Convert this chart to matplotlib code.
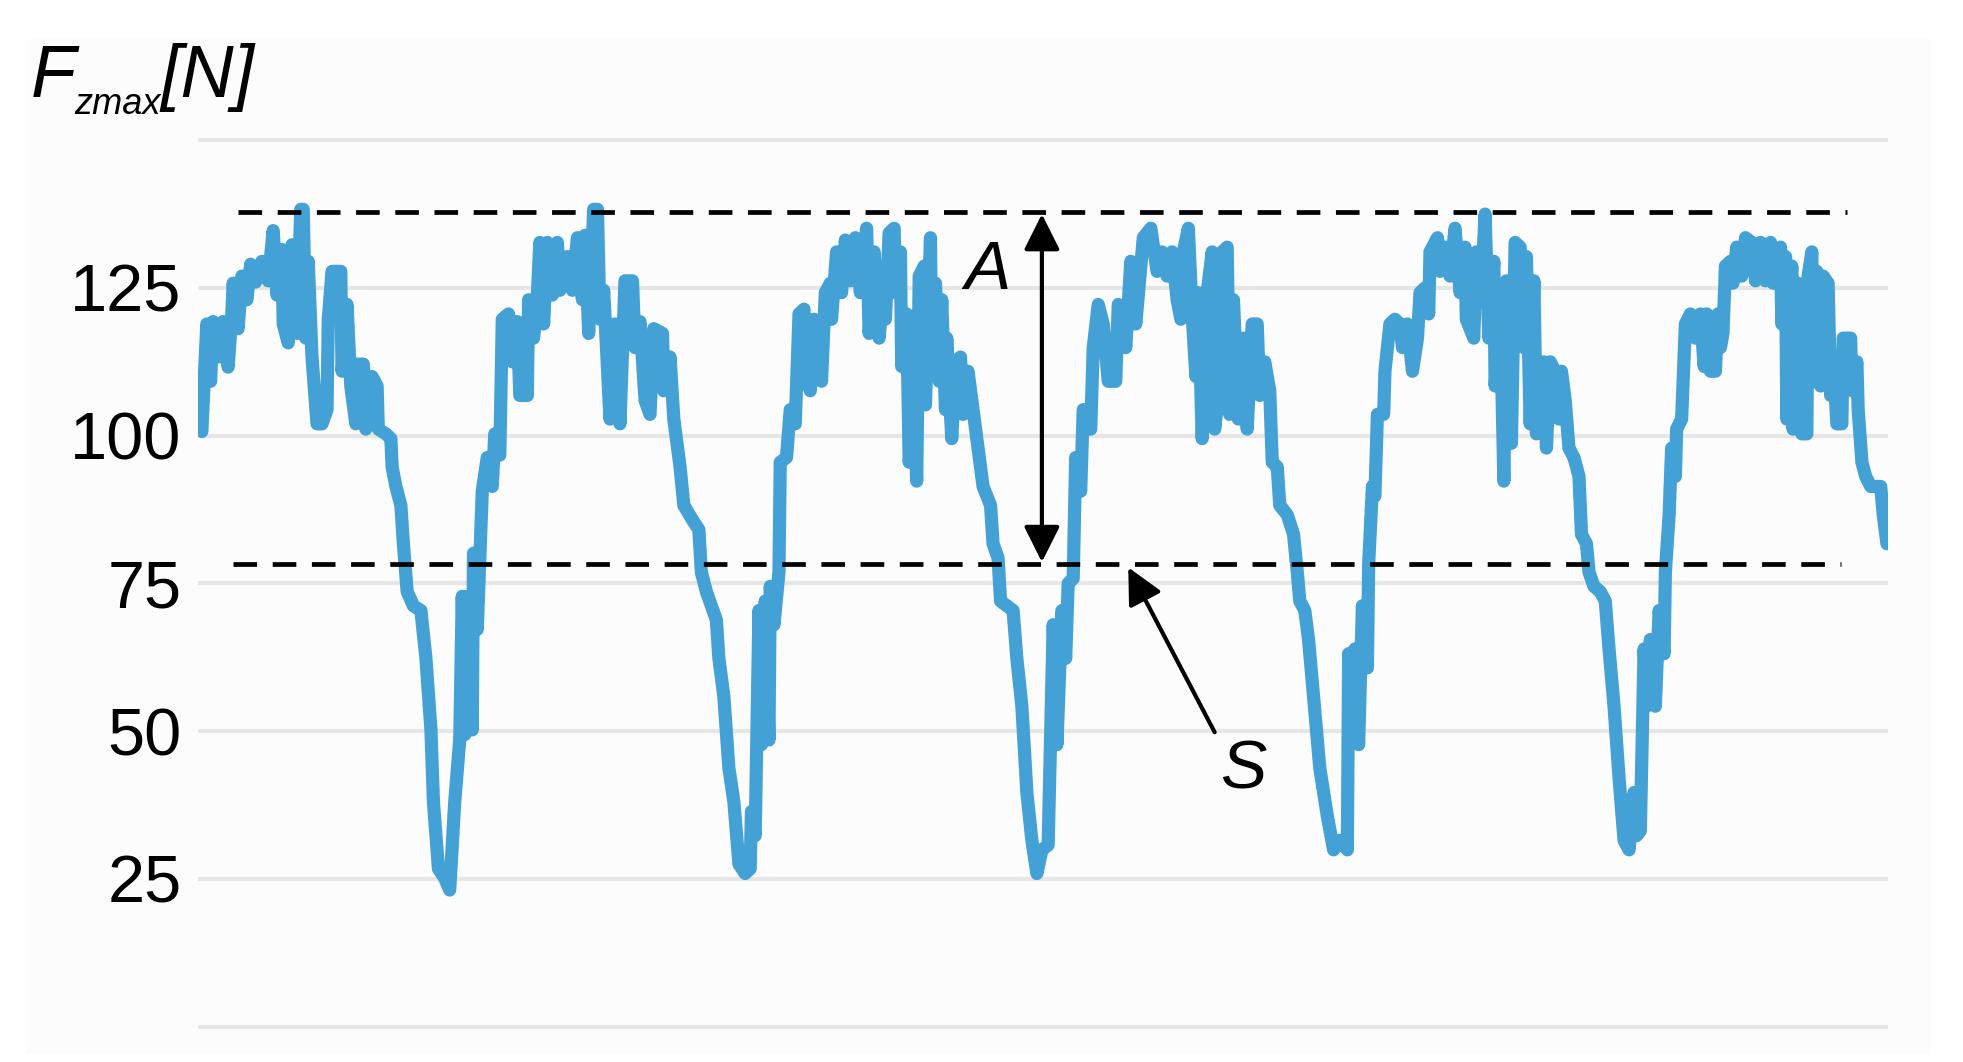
import matplotlib
matplotlib.use("Agg")
import matplotlib.pyplot as plt
from matplotlib.patches import Rectangle

plt.rcParams['font.family'] = ['Liberation Sans', 'DejaVu Sans']

# time (arbitrary sample units) and F_zmax [N]
t = [3, 7, 10, 12, 16, 20, 24, 27, 28, 32, 35, 39, 42, 46, 51, 56, 60, 63, 67, 68,
     72, 75, 79, 82, 84, 86, 88, 91, 95, 99, 103, 104, 107, 114, 115, 119, 122, 126, 127, 132,
     134, 139, 143, 144, 150, 154, 155, 158, 162, 164, 167, 172, 178, 182, 186, 188, 192, 197, 201, 205,
     209, 211, 213, 215, 219, 220, 223, 227, 231, 235, 237, 241, 243, 248, 251, 255, 257, 263, 264, 268,
     271, 273, 276, 279, 283, 287, 289, 295, 299, 303, 307, 309, 312, 316, 319, 321, 324, 329, 333, 337,
     341, 347, 349, 353, 357, 361, 364, 371, 372, 377, 380,
     385, 388, 395, 400, 402, 406, 410, 414, 416, 420, 424, 428, 432, 437, 441, 442, 445, 448, 450, 453,
     456, 457, 460, 464, 465, 470, 473, 477, 480, 484, 485, 489, 492, 496, 498, 501, 505, 506, 510, 514,
     517, 521, 525, 529, 534, 536, 540, 544, 548, 549, 552, 556, 557, 561, 562, 566, 568, 572, 574, 576,
     580, 581, 585, 586, 589, 592, 594, 597, 598, 602, 605, 609, 611, 615, 619, 623, 627, 633, 635, 639,
     641, 646, 651, 654, 658, 662, 666, 670, 674, 679, 683, 686, 690, 693, 695, 699, 701, 705, 707, 713,
     715, 719, 723, 727, 733, 735, 739, 741, 745, 749, 753, 755, 761,
     766, 770, 774, 778, 782, 785, 787, 791, 794, 797, 799, 802, 806, 810, 812, 815, 818, 822, 824, 827,
     831, 835, 838, 842, 846, 848, 852, 856, 858, 862, 864, 870, 875, 878, 880, 884, 887, 891, 896, 902,
     907, 912, 918, 919, 922, 924, 927, 930, 934, 935, 938, 940, 942, 947, 948, 952, 956, 960, 962, 966,
     970, 974, 976, 980, 983, 984, 990, 992, 996, 1000, 1004, 1008, 1012, 1013, 1019, 1021, 1025, 1028, 1031, 1035,
     1036, 1040, 1043, 1045, 1049, 1052, 1056, 1059, 1061, 1064, 1067, 1069, 1075, 1077, 1080,
     1084, 1087, 1089, 1092, 1095, 1099, 1103, 1105, 1109, 1111, 1115, 1120, 1124, 1127, 1131, 1135, 1139, 1143, 1147, 1149,
     1152, 1155, 1157, 1160, 1164, 1167, 1171, 1172, 1175, 1177, 1180, 1181, 1185, 1188, 1192, 1196, 1200, 1203, 1205, 1208,
     1212, 1214, 1216, 1218, 1220, 1224, 1226, 1229, 1233, 1236, 1241, 1244, 1248, 1252, 1256, 1258, 1264, 1265, 1268, 1269,
     1273, 1274, 1278, 1281, 1285, 1286, 1289, 1290, 1293, 1296, 1298, 1302, 1304, 1306, 1309, 1313, 1314, 1320, 1321, 1325,
     1326, 1329, 1332, 1336, 1344, 1346, 1349]

force = [100.7, 118.9, 109.2, 119.3, 113.3, 119.3, 111.6, 120.6, 125.8, 118.1, 127.0, 123.0, 129.0, 126.0, 129.5, 126.2, 134.7, 123.8, 131.5, 118.9,
         115.7, 132.3, 117.3, 138.3, 138.3, 116.5, 129.5, 113.3, 102.0, 102.0, 104.4, 119.7, 127.8, 127.8, 110.9, 122.2, 108.4, 102.0, 112.1, 112.1,
         101.1, 110.0, 108.4, 101.1, 100.3, 99.5, 94.7, 91.4, 88.2, 81.7, 73.6, 71.2, 70.4, 62.3, 50.2, 38.0, 26.7, 25.1, 23.1, 38.0,
         48.5, 72.8, 49.4, 72.8, 50.2, 80.1, 67.2, 90.6, 96.3, 91.4, 100.3, 96.7, 119.7, 120.6, 112.5, 119.3, 106.8, 106.8, 123.0, 116.5,
         123.8, 132.7, 118.9, 132.7, 123.8, 132.7, 124.6, 130.3, 124.6, 133.5, 123.0, 133.9, 117.3, 138.3, 138.3, 119.7, 124.6, 102.8, 118.9, 102.0,
         126.2, 126.2, 114.9, 119.3, 106.0, 103.6, 118.1, 117.3, 107.6, 113.3, 102.8,
         94.7, 88.2, 85.7, 84.1, 76.9, 73.6, 71.2, 68.8, 62.3, 55.8, 43.7, 38.0, 27.5, 25.9, 26.7, 36.4, 32.3, 70.4, 47.7, 72.0,
         48.5, 74.5, 68.0, 76.9, 95.5, 96.3, 104.4, 102.0, 120.6, 121.4, 110.9, 107.6, 119.7, 118.9, 109.2, 124.2, 125.8, 119.7, 131.1, 124.2,
         133.1, 126.2, 133.5, 124.2, 135.1, 117.3, 131.1, 116.5, 126.2, 119.7, 134.3, 135.1, 124.2, 131.1, 111.7, 120.6, 95.5, 105.2, 92.3, 127.0,
         128.7, 105.2, 133.5, 112.5, 125.8, 109.2, 123.0, 104.4, 116.5, 99.5, 112.5, 113.3, 103.6, 110.9, 104.4, 97.9, 91.4, 88.2, 81.7, 79.3,
         72.0, 71.2, 70.4, 62.3, 54.2, 39.6, 31.5, 25.9, 29.9, 30.7, 68.0, 47.7, 70.4, 62.3, 75.0, 75.8, 96.3, 90.6, 104.4, 101.1,
         114.9, 122.2, 118.9, 109.2, 109.2, 122.2, 118.9, 114.9, 129.5, 118.9, 128.7, 133.5, 135.1,
         127.8, 131.1, 127.0, 131.1, 123.0, 119.7, 131.1, 135.1, 120.6, 110.0, 124.2, 99.5, 124.2, 131.1, 101.1, 106.8, 131.1, 131.9, 103.6, 123.0,
         102.8, 116.5, 101.1, 118.9, 118.9, 106.8, 112.5, 107.6, 95.5, 94.7, 88.2, 86.6, 83.3, 76.9, 72.0, 70.4, 65.5, 55.8, 43.7, 35.6,
         29.9, 31.5, 29.9, 63.1, 50.2, 63.9, 47.7, 71.2, 60.7, 78.2, 91.4, 89.8, 103.6, 103.6, 110.9, 118.9, 119.7, 118.9, 114.9, 118.9,
         110.9, 116.5, 124.2, 125.0, 120.6, 131.1, 133.5, 127.8, 131.9, 127.0, 135.1, 124.2, 131.9, 119.7, 116.5, 131.1, 124.2, 137.5, 116.5, 129.5,
         108.4, 123.0, 92.3, 126.2, 98.7, 132.7, 131.9, 114.9, 130.3, 102.0, 126.2, 100.3, 112.5, 97.9, 112.5,
         110.9, 102.8, 110.9, 106.0, 97.9, 96.3, 93.1, 83.3, 81.7, 76.9, 74.5, 73.6, 72.0, 63.9, 54.2, 42.1, 31.5, 29.9, 39.6, 32.3,
         33.1, 63.9, 54.2, 65.5, 54.2, 70.4, 63.1, 76.9, 86.6, 97.9, 93.1, 101.1, 102.8, 118.9, 120.6, 116.5, 120.6, 111.7, 120.6, 110.9,
         110.9, 120.6, 114.9, 117.3, 128.7, 129.5, 125.8, 131.9, 127.0, 133.5, 132.7, 126.2, 132.7, 126.2, 132.7, 125.8, 131.9, 118.9, 130.3, 102.8,
         128.7, 101.1, 125.8, 100.3, 100.3, 127.0, 131.1, 109.2, 127.8, 108.4, 127.0, 125.8, 106.8, 113.3, 102.0, 102.0, 116.5, 116.5, 107.6, 112.5,
         104.4, 95.5, 93.1, 91.4, 91.4, 86.6, 81.7]

y_ticks = [0, 25, 50, 75, 100, 125, 150]
y_tick_labels = ['', '25', '50', '75', '100', '125', '']

upper_level = 137.9   # A: upper envelope
lower_level = 78.3    # S: lower level

fig = plt.figure(figsize=(19.63, 10.62), dpi=100)
fig.patch.set_facecolor('white')
fig.patches.append(Rectangle((0.013, 0.008), 0.97, 0.955, transform=fig.transFigure,
                             facecolor='#fcfcfc', edgecolor='none', zorder=-10))

ax = fig.add_axes([0.1009, 0.0056, 0.861, 0.8902])
ax.set_facecolor('none')
for s in ax.spines.values():
    s.set_visible(False)

ax.plot(t, force, color='#43a1d6', linewidth=9.5, solid_joinstyle='round',
        solid_capstyle='round', zorder=3)

ax.hlines(upper_level, 32, 1317, colors='black', linewidth=3.4, linestyles=(0, (5.0, 3.3)), zorder=4)
ax.hlines(lower_level, 28, 1312, colors='black', linewidth=3.4, linestyles=(0, (5.0, 3.3)), zorder=4)

# amplitude arrow A
ax.annotate('', xy=(674, upper_level - 0.4), xytext=(674, lower_level + 0.3),
            arrowprops=dict(arrowstyle='<|-|>,head_length=1.0,head_width=0.5',
                            color='black', lw=3, shrinkA=0, shrinkB=0, mutation_scale=22),
            zorder=5)
ax.text(631, 127.8, 'A', fontsize=50, style='italic', ha='center', va='center', zorder=5)

# arrow S
ax.annotate('', xy=(743, lower_level - 0.6), xytext=(812, 49.8),
            arrowprops=dict(arrowstyle='-|>,head_length=1.0,head_width=0.5',
                            color='black', lw=3, shrinkA=0, shrinkB=0, mutation_scale=22),
            zorder=5)
ax.text(835, 43.3, 'S', fontsize=50, style='italic', ha='center', va='center', zorder=5)

ax.set_xlim(0, 1350)
ax.set_ylim(-5, 155)
ax.set_xticks([])
ax.set_yticks(y_ticks)
ax.set_yticklabels(y_tick_labels)
ax.tick_params(axis='y', length=0, pad=12, labelsize=48)
ax.grid(True, axis='y', color='#e6e6e6', linewidth=3)
ax.set_axisbelow(True)

# axis title F_zmax[N]
fig.text(0.0158, 0.9087, 'F', fontsize=53, style='italic', va='baseline')
fig.text(0.0377, 0.8930, 'zmax', fontsize=26, style='italic', va='baseline')
fig.text(0.0815, 0.9087, '[N]', fontsize=53, style='italic', va='baseline')

fig.savefig('out.png', dpi=100, facecolor=fig.get_facecolor())
